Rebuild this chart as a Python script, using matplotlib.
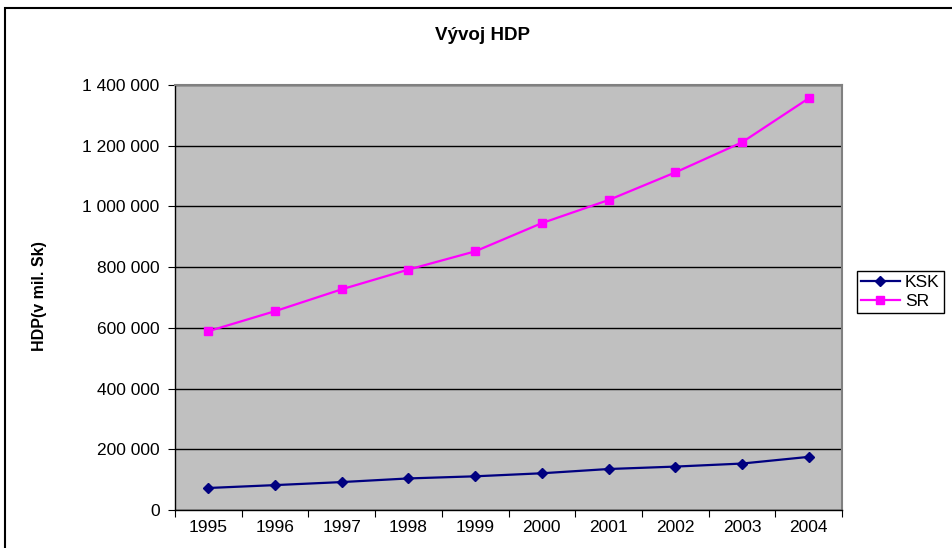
import numpy as np
import matplotlib.pyplot as plt
from matplotlib.patches import Rectangle
from matplotlib.ticker import FuncFormatter

plt.rcParams['font.family'] = ['Liberation Sans', 'DejaVu Sans']

# Data (HDP v mil. Sk)
years = ['1995', '1996', '1997', '1998', '1999', '2000', '2001', '2002', '2003', '2004']
ksk = [72500, 82000, 92000, 104000, 111000, 121000, 135000, 143000, 153000, 175000]
sr = [589000, 655000, 727000, 792000, 852000, 945000, 1021000, 1112000, 1211000, 1356000]

fig = plt.figure(figsize=(9.53, 5.48), dpi=100)

# outer chart border (runs off the right/bottom edge like the original)
fig.patches.append(Rectangle((5 / 953, -0.05), 1.1, 1 - 8 / 548 + 0.05,
                             transform=fig.transFigure, fill=False,
                             edgecolor='black', lw=1.5))

ax = fig.add_axes([175 / 953, 1 - 510 / 548, (842 - 175) / 953, (510 - 85) / 548])
ax.set_facecolor('#C0C0C0')

x = np.arange(len(years))
ax.plot(x, ksk, color='#000080', marker='D', markersize=5.5, lw=1.6, label='KSK')
ax.plot(x, sr, color='#FF00FF', marker='s', markersize=5.5, lw=1.6, label='SR')

ax.set_xlim(-0.5, len(years) - 0.5)
ax.set_ylim(0, 1400000)
ax.set_yticks(np.arange(0, 1400001, 200000))
ax.yaxis.set_major_formatter(FuncFormatter(lambda v, p: f'{int(v):,}'.replace(',', ' ')))
ax.grid(axis='y', color='black', lw=1)
ax.set_axisbelow(True)

# category labels between boundary ticks
ax.set_xticks(np.arange(-0.5, len(years), 1))
ax.set_xticklabels([])
ax.set_xticks(x, minor=True)
ax.set_xticklabels(years, minor=True)
ax.tick_params(axis='x', which='minor', length=0, pad=7, labelsize=12.5)
ax.tick_params(axis='x', which='major', length=5, direction='out', color='black')
ax.tick_params(axis='y', length=5, direction='out', labelsize=12.5, pad=6)

for s in ['top', 'right']:
    ax.spines[s].set_color('#808080')
    ax.spines[s].set_linewidth(1.5)
for s in ['left', 'bottom']:
    ax.spines[s].set_color('black')
    ax.spines[s].set_linewidth(1)

fig.text(483 / 953, 1 - 36 / 548, 'Vývoj HDP', ha='center', va='center',
         fontsize=13.5, fontweight='bold')
fig.text(40 / 953, 1 - 296 / 548, 'HDP(v mil. Sk)', ha='center', va='center',
         rotation=90, fontsize=11.5, fontweight='bold')

leg = fig.legend(loc='upper left', bbox_to_anchor=(857 / 953, 1 - 271 / 548),
                 frameon=True, fancybox=False, edgecolor='black', framealpha=1,
                 fontsize=12.5, handlelength=2.2, borderpad=0.25, labelspacing=0.2,
                 handletextpad=0.3, borderaxespad=0)
leg.get_frame().set_linewidth(1)

fig.savefig('out.png', dpi=100)
